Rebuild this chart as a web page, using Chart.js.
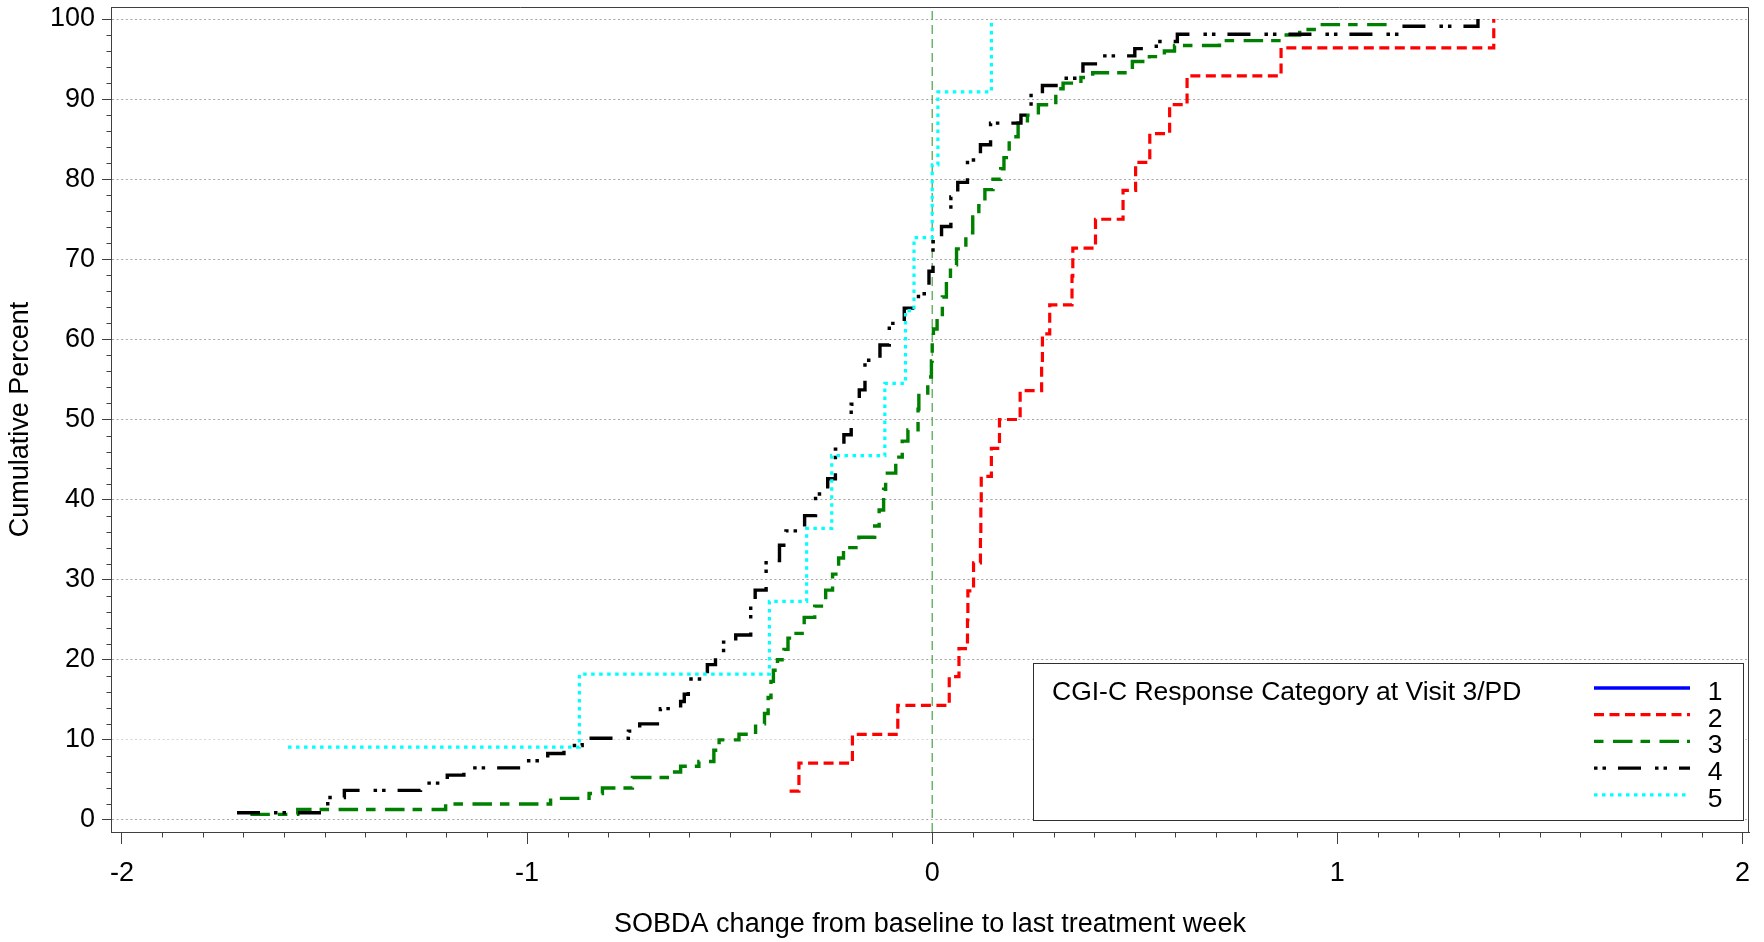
<!DOCTYPE html>
<html lang="en">
<head>
    <meta charset="UTF-8">
    <title>SOBDA change - cumulative percent by CGI-C response</title>
    <script src="https://cdn.jsdelivr.net/npm/chart.js"></script>
    <style>
        html, body { margin: 0; padding: 0; background: #ffffff; }
        canvas { display: block; }
    </style>
</head>
<body>
    <canvas id="cdfChart" width="1764" height="942"></canvas>
    <script>
        // CGI-C response categories at Visit 3/PD
        const categories = ["1", "2", "3", "4", "5"];
        const legendTitle = "CGI-C Response Category at Visit 3/PD";
        const xTitle = "SOBDA change from baseline to last treatment week";
        const yTitle = "Cumulative Percent";

        // category 1 has no subjects
        const cat1X = [];
        const cat1Y = [];

        const cat2X = [-0.352, -0.329, -0.197, -0.085, 0.042, 0.066, 0.087, 0.088, 0.102, 0.119,
                       0.120, 0.121, 0.146, 0.166, 0.217, 0.270, 0.272, 0.290, 0.345, 0.347,
                       0.403, 0.471, 0.502, 0.537, 0.586, 0.629, 0.861, 1.386];
        const cat2Y = [3.6, 7.1, 10.7, 14.3, 17.9, 21.4, 25.0, 28.6, 32.1, 35.7,
                       39.3, 42.9, 46.4, 50.0, 53.6, 57.1, 60.7, 64.3, 67.9, 71.4,
                       75.0, 78.6, 82.1, 85.7, 89.3, 92.9, 96.4, 100];

        const cat3X = [-1.683, -1.566, -1.201, -0.942, -0.847, -0.814, -0.740, -0.646, -0.621, -0.576,
                       -0.539, -0.526, -0.477, -0.436, -0.414, -0.405, -0.398, -0.392, -0.382, -0.366,
                       -0.356, -0.345, -0.316, -0.290, -0.263, -0.246, -0.231, -0.219, -0.181, -0.142,
                       -0.131, -0.120, -0.115, -0.090, -0.074, -0.060, -0.035, -0.033, -0.011, -0.002,
                       0.000, 0.003, 0.012, 0.025, 0.035, 0.045, 0.060, 0.083, 0.100, 0.115,
                       0.130, 0.150, 0.169, 0.177, 0.190, 0.212, 0.235, 0.262, 0.305, 0.323,
                       0.367, 0.396, 0.494, 0.536, 0.573, 0.598, 0.709, 0.866, 0.907, 0.949, 1.122];
        const cat3Y = [0.7, 1.3, 2.0, 2.7, 3.3, 4.0, 5.3, 6.0, 6.7, 7.3,
                       8.7, 10.0, 10.7, 12.0, 13.3, 15.3, 17.3, 18.7, 20.0, 21.3,
                       22.7, 23.3, 25.3, 26.7, 28.7, 30.7, 32.7, 34.0, 35.3, 36.7,
                       38.7, 41.3, 43.3, 45.3, 47.3, 48.7, 51.3, 53.3, 55.3, 57.3,
                       60.0, 61.3, 62.7, 65.3, 67.3, 69.3, 71.3, 73.3, 75.3, 76.7,
                       78.7, 80.0, 81.3, 82.7, 85.3, 87.3, 88.0, 89.3, 91.3, 92.0,
                       92.7, 93.3, 94.7, 95.3, 96.0, 96.7, 97.3, 98.0, 98.7, 99.3, 100];

        const cat4X = [-1.716, -1.492, -1.451, -1.263, -1.197, -1.156, -1.004, -0.949, -0.909, -0.864,
                       -0.750, -0.722, -0.671, -0.621, -0.612, -0.602, -0.555, -0.535, -0.515, -0.485,
                       -0.448, -0.437, -0.410, -0.377, -0.361, -0.315, -0.288, -0.258, -0.239, -0.218,
                       -0.200, -0.180, -0.166, -0.129, -0.106, -0.069, -0.034, -0.008, 0.002, 0.023,
                       0.046, 0.063, 0.087, 0.119, 0.144, 0.219, 0.244, 0.272, 0.324, 0.372,
                       0.408, 0.500, 0.553, 0.605, 1.154, 1.347];
        const cat4Y = [0.9, 2.8, 3.7, 4.6, 5.6, 6.5, 7.4, 8.3, 9.3, 10.2,
                       11.1, 12.0, 13.9, 14.8, 15.7, 17.6, 19.4, 20.4, 22.2, 23.1,
                       26.9, 28.7, 32.4, 34.3, 36.1, 38.0, 40.7, 42.6, 46.3, 48.1,
                       51.9, 53.7, 57.4, 59.3, 62.0, 63.9, 65.7, 68.5, 72.2, 74.1,
                       77.8, 79.6, 82.4, 84.3, 87.0, 88.0, 90.7, 91.7, 92.6, 94.4,
                       95.4, 96.3, 97.2, 98.1, 99.1, 100];

        const cat5X = [-1.590, -0.871, -0.402, -0.310, -0.248, -0.117, -0.066, -0.045, 0.000, 0.014, 0.146];
        const cat5Y = [9.1, 18.2, 27.3, 36.4, 45.5, 54.5, 63.6, 72.7, 81.8, 90.9, 100];

        const xMajorTicks = [-2, -1, 0, 1, 2];
        const yMajorTicks = [0, 10, 20, 30, 40, 50, 60, 70, 80, 90, 100];
        const xMinorStep = 0.1;
        const yMinorStep = 2;
        const refLineX = 0;

        const xMin = -2.027, xMax = 2.016;
        const yMin = -1.5, yMax = 101.5;

        const FONT = "'Liberation Sans', Arial, Helvetica, sans-serif";
        const AXIS_COLOR = "#404040";

        // line style per category: colour, dash pattern, width
        const styles = [
            { color: "#0000ff", dash: [], offset: 0, width: 3.4 },
            { color: "#ff0000", dash: [10, 5.5], offset: 0, width: 3.2 },
            { color: "#008000", dash: [19.5, 8, 9.5, 9.5], offset: 27.5, width: 3.4 },
            { color: "#000000", dash: [23, 14, 3.5, 5, 3.5, 12], offset: 37, width: 3.4 },
            { color: "#00ffff", dash: [3.5, 4.5], offset: 0, width: 3.2 }
        ];

        const seriesX = [cat1X, cat2X, cat3X, cat4X, cat5X];
        const seriesY = [cat1Y, cat2Y, cat3Y, cat4Y, cat5Y];

        function toPoints(xs, ys) {
            return xs.map((x, i) => ({ x: x, y: ys[i] }));
        }

        const datasets = categories.map((name, i) => ({
            label: name,
            data: toPoints(seriesX[i], seriesY[i]),
            stepped: "before",
            borderColor: styles[i].color,
            borderDash: styles[i].dash,
            borderWidth: styles[i].width,
            borderCapStyle: "butt",
            borderJoinStyle: "miter",
            pointRadius: 0,
            fill: false,
            order: 5 - i
        }));

        // reference line at zero change
        datasets.push({
            label: "zero",
            data: [{ x: refLineX, y: yMin }, { x: refLineX, y: yMax }],
            borderColor: "#55aa55",
            borderDash: [9, 5],
            borderWidth: 1.3,
            pointRadius: 0,
            fill: false,
            order: 10
        });

        // top/right frame and the small minor ticks on both axes
        const framePlugin = {
            id: "frame",
            afterDatasetsDraw(chart) {
                const { ctx, chartArea: a, scales } = chart;
                ctx.save();
                ctx.strokeStyle = AXIS_COLOR;
                ctx.lineWidth = 1;
                ctx.setLineDash([]);
                const l = Math.round(a.left) + 0.5, r = Math.round(a.right) - 0.5;
                const t = Math.round(a.top) + 0.5, b = Math.round(a.bottom) + 0.5;
                ctx.beginPath();
                ctx.moveTo(l, t); ctx.lineTo(r, t); ctx.lineTo(r, b);
                ctx.stroke();

                ctx.beginPath();
                const xFirst = Math.round(xMajorTicks[0] / xMinorStep);
                const xLast = Math.round(xMajorTicks[xMajorTicks.length - 1] / xMinorStep);
                for (let k = xFirst; k <= xLast; k++) {
                    if (k % 10 === 0) continue;
                    const px = Math.round(scales.x.getPixelForValue(k * xMinorStep)) + 0.5;
                    ctx.moveTo(px, b); ctx.lineTo(px, b + 5);
                }
                const yFirst = Math.round(yMajorTicks[0] / yMinorStep);
                const yLast = Math.round(yMajorTicks[yMajorTicks.length - 1] / yMinorStep);
                for (let k = yFirst; k <= yLast; k++) {
                    if (k % 5 === 0) continue;
                    const py = Math.round(scales.y.getPixelForValue(k * yMinorStep)) + 0.5;
                    ctx.moveTo(l, py); ctx.lineTo(l - 5, py);
                }
                ctx.stroke();
                ctx.restore();
            }
        };

        // boxed legend in the lower right of the plot
        const legendBox = { left: 1033, top: 663, right: 1743, bottom: 820 };
        const legendPlugin = {
            id: "cgiLegend",
            afterDraw(chart) {
                const ctx = chart.ctx;
                const w = legendBox.right - legendBox.left;
                const h = legendBox.bottom - legendBox.top;
                ctx.save();
                ctx.fillStyle = "#ffffff";
                ctx.fillRect(legendBox.left, legendBox.top, w, h);
                ctx.strokeStyle = "#303030";
                ctx.lineWidth = 1;
                ctx.setLineDash([]);
                ctx.strokeRect(legendBox.left + 0.5, legendBox.top + 0.5, w, h);

                ctx.font = "26.5px " + FONT;
                ctx.fillStyle = "#000000";
                ctx.textBaseline = "middle";
                ctx.textAlign = "left";
                ctx.fillText(legendTitle, legendBox.left + 19, legendBox.top + 30);

                categories.forEach((name, i) => {
                    const y = legendBox.top + 25 + i * 26.7;
                    const st = styles[i];
                    ctx.beginPath();
                    ctx.strokeStyle = st.color;
                    ctx.lineWidth = st.width;
                    ctx.lineCap = "butt";
                    ctx.setLineDash(st.dash);
                    ctx.lineDashOffset = st.offset;
                    ctx.moveTo(legendBox.left + 561, y);
                    ctx.lineTo(legendBox.left + 657, y);
                    ctx.stroke();
                    ctx.setLineDash([]);
                    ctx.textAlign = "center";
                    ctx.fillText(name, legendBox.left + 682, y + 4.5);
                });
                ctx.restore();
            }
        };

        new Chart(document.getElementById("cdfChart"), {
            type: "line",
            data: { datasets },
            options: {
                responsive: false,
                animation: false,
                events: [],
                layout: { autoPadding: false, padding: { left: 0, right: 15, top: 7, bottom: 0 } },
                plugins: { legend: { display: false }, tooltip: { enabled: false } },
                scales: {
                    x: {
                        type: "linear",
                        min: xMin,
                        max: xMax,
                        afterBuildTicks: (s) => { s.ticks = xMajorTicks.map(v => ({ value: v })); },
                        afterFit: (s) => { s.height = 110; s.paddingLeft = 0; s.paddingRight = 0; },
                        grid: { drawOnChartArea: false, drawTicks: true, tickLength: 12, tickColor: AXIS_COLOR, tickWidth: 1 },
                        border: { display: true, color: AXIS_COLOR, width: 1 },
                        ticks: {
                            autoSkip: false, maxRotation: 0, padding: 13, color: "#000000",
                            font: { family: FONT, size: 27 },
                            callback: (v) => String(v)
                        },
                        title: {
                            display: true, text: xTitle, color: "#000000",
                            font: { family: FONT, size: 27 },
                            padding: { top: 0, bottom: 1 }
                        }
                    },
                    y: {
                        type: "linear",
                        min: yMin,
                        max: yMax,
                        afterBuildTicks: (s) => { s.ticks = yMajorTicks.map(v => ({ value: v })); },
                        afterFit: (s) => { s.width = 111; s.paddingTop = 0; s.paddingBottom = 0; },
                        grid: {
                            drawOnChartArea: true, drawTicks: true, tickLength: 9,
                            color: (c) => (c.tick && c.tick.value === 10) ? "#d4d4d4" : "#a6a6a6",
                            lineWidth: 1, tickColor: AXIS_COLOR, tickWidth: 1
                        },
                        border: { display: true, color: AXIS_COLOR, width: 1, dash: [2, 2.6] },
                        ticks: {
                            padding: 7, color: "#000000",
                            font: { family: FONT, size: 27 },
                            callback: (v) => String(v)
                        },
                        title: {
                            display: true, text: yTitle, color: "#000000",
                            font: { family: FONT, size: 27 },
                            padding: { top: 4, bottom: 0 }
                        }
                    }
                }
            },
            plugins: [framePlugin, legendPlugin]
        });
    </script>
</body>
</html>
